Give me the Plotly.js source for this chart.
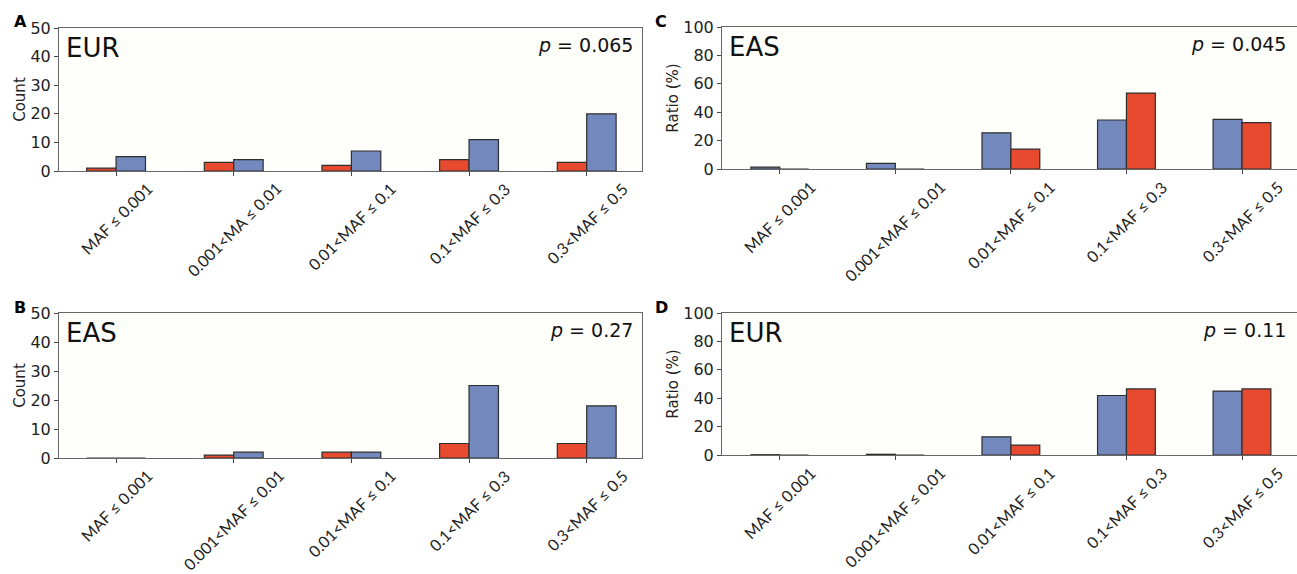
<!DOCTYPE html>
<html>
<head>
<meta charset="utf-8">
<script src="https://cdn.plot.ly/plotly-3.0.1.min.js"></script>
<style>html,body{margin:0;padding:0;background:#fff;}#chart{width:1297px;height:574px;}</style>
</head>
<body>
<div id="chart"></div>
<script>
// Categories (tick labels)
const catsA = ["MAF \u2264 0.001", "0.001<MA \u2264 0.01", "0.01<MAF \u2264 0.1", "0.1<MAF \u2264 0.3", "0.3<MAF \u2264 0.5"];
const catsStd = ["MAF \u2264 0.001", "0.001<MAF \u2264 0.01", "0.01<MAF \u2264 0.1", "0.1<MAF \u2264 0.3", "0.3<MAF \u2264 0.5"];

// Panel A (EUR, counts)
const aRed  = [1, 3, 2, 4, 3];
const aBlue = [5, 4, 7, 11, 20];
// Panel B (EAS, counts)
const bRed  = [0, 1, 2, 5, 5];
const bBlue = [0, 2, 2, 25, 18];
// Panel C (EAS, ratio %)
const cBlue = [1.3, 4.0, 25.5, 34.5, 35.0];
const cRed  = [0, 0, 14.0, 53.5, 32.7];
// Panel D (EUR, ratio %)
const dBlue = [0.2, 0.5, 12.8, 41.9, 45.0];
const dRed  = [0, 0, 7.0, 46.5, 46.5];

const RED = '#e84a2f', BLUE = '#7388bd', EDGE = '#2e2e2e';
const idx = [0,1,2,3,4];

function bar(vals, color, xa, ya) {
  return {type:'bar', x: idx, y: vals, xaxis: xa, yaxis: ya,
    marker:{color: color, line:{color: EDGE, width: 1.2}}, showlegend:false, hoverinfo:'y'};
}

const data = [
  bar(aRed, RED, 'x', 'y'), bar(aBlue, BLUE, 'x', 'y'),
  bar(bRed, RED, 'x2', 'y2'), bar(bBlue, BLUE, 'x2', 'y2'),
  bar(cBlue, BLUE, 'x3', 'y3'), bar(cRed, RED, 'x3', 'y3'),
  bar(dBlue, BLUE, 'x4', 'y4'), bar(dRed, RED, 'x4', 'y4')
];

const W = 1297, H = 574;
function dx(a, b) { return [a / W, b / W]; }
function dy(top, bottom) { return [1 - bottom / H, 1 - top / H]; }

const tickFontY = {family:'DejaVu Sans', size:16, color:'#222'};
const labelFontX = {family:'Lato, Open Sans, sans-serif', size:16, color:'#222'};

function xaxis(dom, anchor, range) {
  return {domain: dom, anchor: anchor, range: range, tickmode:'array', tickvals: idx,
    showticklabels:false, ticks:'outside', ticklen:4, tickcolor:'#444', showline:true, linecolor:'#666', linewidth:1,
    mirror: true, showgrid:false, zeroline:false, fixedrange:true};
}
function yaxis(dom, anchor, range, dtick, title, mirror) {
  return {domain: dom, anchor: anchor, range: range, dtick: dtick, tick0:0, ticks:'outside', ticklen:4,
    tickcolor:'#444', showline:true, linecolor:'#666', linewidth:1, mirror: mirror, showgrid:false, zeroline:false,
    tickfont: tickFontY, title:{text: title, font:{family:'DejaVu Sans', size:15, color:'#222'}, standoff: 1},
    fixedrange:true};
}

const layout = {
  width: W, height: H, margin:{l:0, r:0, t:0, b:0}, paper_bgcolor:'#ffffff', plot_bgcolor:'#fefefa',
  barmode:'group', bargap:0.5, bargroupgap:0,
  xaxis:  xaxis(dx(59, 642), 'y', [-0.485, 4.47]),
  yaxis:  yaxis(dy(28, 171), 'x', [0, 50], 10, 'Count', true),
  xaxis2: xaxis(dx(59, 642), 'y2', [-0.485, 4.47]),
  yaxis2: yaxis(dy(313, 458), 'x2', [0, 50], 10, 'Count', true),
  xaxis3: xaxis(dx(722, 1297), 'y3', [-0.5, 4.476]),
  yaxis3: yaxis(dy(27, 169), 'x3', [0, 100], 20, 'Ratio (%)', false),
  xaxis4: xaxis(dx(722, 1297), 'y4', [-0.5, 4.476]),
  yaxis4: yaxis(dy(313, 455), 'x4', [0, 100], 20, 'Ratio (%)', false),
  annotations: []
};

const panels = [
  {letter:'A', pop:'EUR', p:'0.065', xa:'x', ya:'y', lx:12, ly:10, cats: catsA},
  {letter:'B', pop:'EAS', p:'0.27', xa:'x2', ya:'y2', lx:12, ly:296, cats: catsStd},
  {letter:'C', pop:'EAS', p:'0.045', xa:'x3', ya:'y3', lx:653, ly:10, cats: catsStd},
  {letter:'D', pop:'EUR', p:'0.11', xa:'x4', ya:'y4', lx:653, ly:296, cats: catsStd}
];
panels.forEach(function(pn, i) {
  layout.annotations.push({text: pn.pop, xref: pn.xa + ' domain', yref: pn.ya + ' domain', x: 0.008, y: 0.98,
    xanchor:'left', yanchor:'top', showarrow:false, font:{family:'DejaVu Sans', size:26, color:'#111'}});
  const pr = (i >= 2) ? 0.985 : 0.988;
  layout.annotations.push({text: '<i>p</i> = ' + pn.p, xref: pn.xa + ' domain', yref: pn.ya + ' domain', x: pr, y: 0.97,
    xanchor:'right', yanchor:'top', showarrow:false, font:{family:'DejaVu Sans', size:19, color:'#111'}});
  layout.annotations.push({text: '<b>' + pn.letter + '</b>', xref:'paper', yref:'paper', x: pn.lx / W, y: 1 - pn.ly / H,
    xanchor:'left', yanchor:'top', showarrow:false, font:{family:'DejaVu Sans', size:16, color:'#000'}});
  // rotated category labels, centred under each tick
  pn.cats.forEach(function(lbl, k) {
    layout.annotations.push({text: lbl, xref: pn.xa, yref: pn.ya + ' domain', x: idx[k], y: 0,
      xanchor:'center', yanchor:'top', yshift:-5, textangle:-45, showarrow:false, font: labelFontX});
  });
});

Plotly.newPlot('chart', data, layout, {staticPlot:true, displayModeBar:false});
</script>
</body>
</html>
